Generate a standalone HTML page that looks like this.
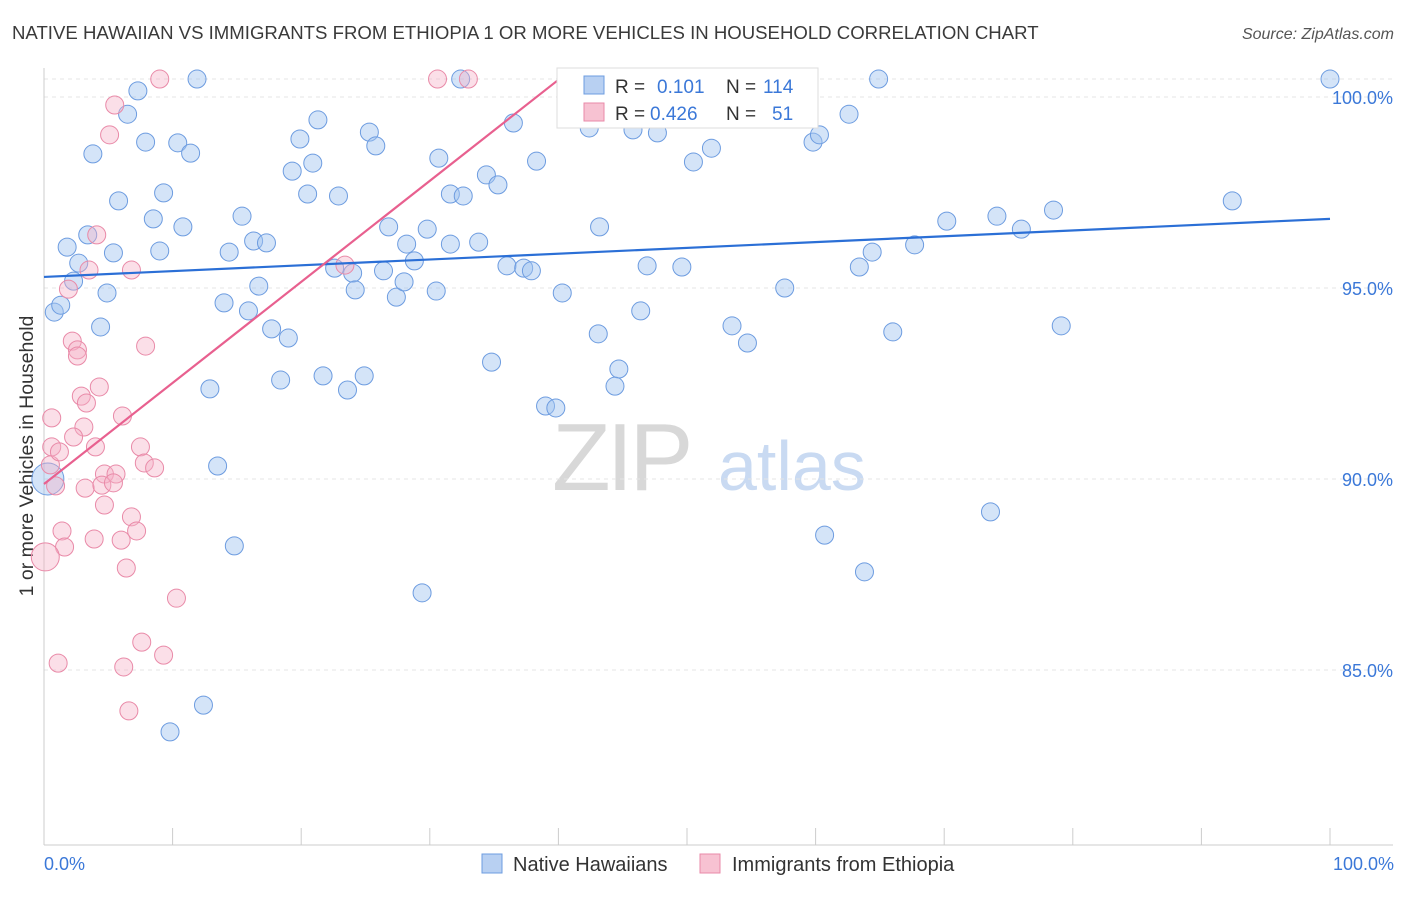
<!DOCTYPE html>
<html><head><meta charset="utf-8">
<style>
body{margin:0;background:#fff;font-family:"Liberation Sans",sans-serif;}
svg text{font-family:"Liberation Sans",sans-serif;}
</style></head>
<body>
<svg id="chart" width="1406" height="892" xmlns="http://www.w3.org/2000/svg">
<text x="12" y="39" font-size="18.6" fill="#3a3a3a">NATIVE HAWAIIAN VS IMMIGRANTS FROM ETHIOPIA 1 OR MORE VEHICLES IN HOUSEHOLD CORRELATION CHART</text>
<text x="1394" y="39" font-size="16" fill="#555" font-style="italic" text-anchor="end">Source: ZipAtlas.com</text>
<g>
<text x="552" y="490" font-size="96" fill="#d8d8d8" font-family="Liberation Serif, serif" letter-spacing="-4">ZIP</text>
<text x="718" y="490" font-size="70" fill="#c9daf2">atlas</text>
</g>
<text transform="translate(33,456) rotate(-90)" font-size="19.5" fill="#333" text-anchor="middle">1 or more Vehicles in Household</text>
<g id="grid"></g>
<g id="axes"></g>
<g id="marks"></g>
<g>
<rect x="557" y="68" width="261" height="60" fill="#fff" stroke="#ddd"/>
<rect x="584" y="76" width="20" height="18" fill="#b8d0f2" stroke="#6d9ce0"/>
<text x="615" y="93" font-size="19" fill="#333">R = </text><text x="657" y="93" font-size="19" fill="#3b78d8">0.101</text>
<text x="726" y="93" font-size="19" fill="#333">N = </text><text x="763" y="93" font-size="19" fill="#3b78d8">114</text>
<rect x="584" y="103" width="20" height="18" fill="#f7c2d2" stroke="#e98aa8"/>
<text x="615" y="120" font-size="19" fill="#333">R = </text><text x="650" y="120" font-size="19" fill="#3b78d8">0.426</text>
<text x="726" y="120" font-size="19" fill="#333">N = </text><text x="772" y="120" font-size="19" fill="#3b78d8">51</text>
</g>
<g>
<rect x="482" y="854" width="20" height="19" fill="#b8d0f2" stroke="#6d9ce0"/>
<text x="513" y="871" font-size="20" fill="#333">Native Hawaiians</text>
<rect x="700" y="854" width="20" height="19" fill="#f7c2d2" stroke="#e98aa8"/>
<text x="732" y="871" font-size="20" fill="#333">Immigrants from Ethiopia</text>
</g>
<text x="44" y="870" font-size="18" fill="#3b78d8">0.0%</text>
<text x="1394" y="870" font-size="18" fill="#3b78d8" text-anchor="end">100.0%</text>
</svg>
<script>
const yTicks=[100,95,90,85];
const yTickLabels=["100.0%","95.0%","90.0%","85.0%"];
const xTicks=[0,10,20,30,40,50,60,70,80,90,100];
const blueX=[7.3,11.9,6.5,7.9,3.8,10.4,11.4,5.8,9.3,8.5,10.8,3.4,1.8,5.4,9.0,2.7,2.3,4.9,0.8,1.3,4.4,15.4,14.4,16.3,17.3,16.7,14.0,15.9,17.7,19.0,18.4,12.9,13.5,14.8,12.4,9.8,19.9,21.3,20.9,19.3,20.5,22.9,25.3,25.8,26.8,28.2,29.8,30.7,31.6,32.6,31.6,33.8,34.4,35.3,36.5,38.3,32.4,41.5,42.4,45.8,47.7,50.5,51.9,59.3,59.8,60.3,62.6,64.9,43.2,40.3,36.0,37.3,37.9,46.9,49.6,22.6,24.0,24.2,26.4,27.4,28.0,28.8,30.5,21.7,23.6,24.9,34.8,39.0,39.8,43.1,44.7,44.4,46.4,53.5,54.7,57.6,63.4,64.4,67.7,66.0,70.2,74.1,76.0,78.5,79.1,92.4,100,73.6,60.7,63.8,29.4,0.3];
const blueY=[100.16,100.47,99.55,98.82,98.51,98.8,98.53,97.28,97.49,96.81,96.6,96.39,96.07,95.92,95.97,95.65,95.18,94.87,94.37,94.55,93.98,96.88,95.94,96.23,96.18,95.05,94.61,94.4,93.93,93.69,92.59,92.36,90.34,88.25,84.08,83.38,98.9,99.4,98.27,98.06,97.46,97.41,99.08,98.72,96.6,96.15,96.54,98.4,97.46,97.41,96.15,96.2,97.96,97.7,99.32,98.32,100.47,100.47,99.19,99.14,99.06,98.3,98.66,100.47,98.82,99.01,99.55,100.47,96.6,94.87,95.58,95.52,95.45,95.58,95.55,95.52,95.39,94.95,95.45,94.76,95.16,95.71,94.92,92.7,92.33,92.7,93.06,91.91,91.86,93.8,92.88,92.43,94.4,94.01,93.56,95.0,95.55,95.94,96.13,93.85,96.75,96.88,96.54,97.04,94.01,97.28,100.47,89.14,88.53,87.57,87.02,90.0];
const pinkX=[9.0,30.6,33.0,5.5,5.1,4.1,3.5,6.8,1.9,2.2,2.6,2.6,7.9,4.3,2.9,3.3,0.6,6.1,3.1,2.3,0.6,4.0,7.5,7.8,8.6,4.7,5.6,0.9,3.2,4.5,5.4,4.7,6.8,1.4,7.2,3.9,6.0,1.6,6.4,0.1,10.3,7.6,9.3,1.1,6.2,6.6,23.4,0.5,1.2];
const pinkY=[100.47,100.47,100.47,99.79,99.01,96.39,95.47,95.47,94.97,93.61,93.38,93.22,93.48,92.41,92.17,91.99,91.6,91.65,91.36,91.1,90.84,90.84,90.84,90.42,90.29,90.13,90.13,89.82,89.76,89.84,89.9,89.32,89.01,88.64,88.64,88.43,88.4,88.22,87.67,87.96,86.88,85.73,85.39,85.18,85.08,83.93,95.6,90.37,90.71];
const blueTrend=[95.29,96.81];
const pinkTrend=[89.87,0.2645];
const pinkTrendEnd=40.0;

const NS="http://www.w3.org/2000/svg";
const X=v=>44+v*12.86;
const Y=v=>97+(100-v)*38.2;
function mk(tag,attrs,parent){const e=document.createElementNS(NS,tag);for(const k in attrs)e.setAttribute(k,attrs[k]);parent.appendChild(e);return e;}
const grid=document.getElementById('grid'),axes=document.getElementById('axes'),marks=document.getElementById('marks');
const tl=mk('line',{x1:44,x2:1393,y1:79,y2:79,stroke:'#e4e4e4','stroke-dasharray':'4,4'},grid);


yTicks.forEach((t,i)=>{
 const l=mk('line',{x1:44,x2:1393,y1:Y(t),y2:Y(t),stroke:'#e4e4e4','stroke-dasharray':'4,4'},grid);
 
 
 const tx=mk('text',{x:1393,y:Y(t)+7,'font-size':18,fill:'#3b78d8','text-anchor':'end'},axes);
 tx.textContent=yTickLabels[i];
 
 
});
const ax=mk('line',{x1:44,x2:1393,y1:845,y2:845,stroke:'#ccc'},axes);


const ay=mk('line',{x1:44,x2:44,y1:68,y2:845,stroke:'#ccc'},axes);


xTicks.forEach(t=>{
 const l=mk('line',{x1:X(t),x2:X(t),y1:828,y2:845,stroke:'#ccc'},axes);
 
 
});
blueX.forEach((v,i)=>{
 const big=i===blueX.length-1;
 const c=mk('circle',{cx:X(v),cy:Y(blueY[i]),r:big?16:9,fill:'rgba(160,195,240,0.45)',stroke:'#6d9ce0','stroke-width':1},marks);
 
 
});
pinkX.forEach((v,i)=>{
 const big=i===39;
 const c=mk('circle',{cx:X(v),cy:Y(pinkY[i]),r:big?14:9,fill:'rgba(245,175,198,0.4)',stroke:'#e98aa8','stroke-width':1},marks);
 
 
});
const bl=mk('line',{x1:X(0),y1:Y(blueTrend[0]),x2:X(100),y2:Y(blueTrend[1]),stroke:'#2b6fd6','stroke-width':2.2},marks);


const pl=mk('line',{x1:X(0),y1:Y(pinkTrend[0]),x2:X(pinkTrendEnd),y2:Y(pinkTrend[0]+pinkTrend[1]*pinkTrendEnd),stroke:'#e8608f','stroke-width':2.2},marks);


</script>
</body></html>
